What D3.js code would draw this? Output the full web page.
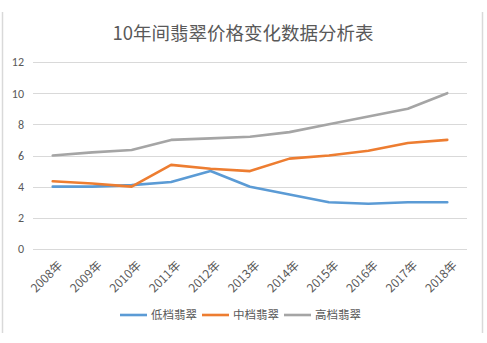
<!DOCTYPE html>
<html>
<head>
<meta charset="utf-8">
<script src="https://cdn.jsdelivr.net/npm/d3@7"></script>
<style>
  body { margin: 0; background: #fff; }
  text { font-family: "Microsoft YaHei", "Noto Sans CJK SC", sans-serif; }
</style>
</head>
<body>
<div id="the_chart"></div>
<script>
var years = ["2008年","2009年","2010年","2011年","2012年","2013年","2014年","2015年","2016年","2017年","2018年"];
var low  = [4.0, 4.0, 4.1, 4.3, 5.0, 4.0, 3.5, 3.0, 2.9, 3.0, 3.0];
var mid  = [4.35, 4.2, 4.0, 5.4, 5.15, 5.0, 5.8, 6.0, 6.3, 6.8, 7.0];
var high = [6.0, 6.2, 6.35, 7.0, 7.1, 7.2, 7.5, 8.0, 8.5, 9.0, 10.0];
var seriesNames = ["低档翡翠", "中档翡翠", "高档翡翠"];
var yTicks = [0, 2, 4, 6, 8, 10, 12];
var title = "10年间翡翠价格变化数据分析表";

var series = [
  {name: seriesNames[0], values: low,  color: "#5b9bd5"},
  {name: seriesNames[1], values: mid,  color: "#ed7d31"},
  {name: seriesNames[2], values: high, color: "#a5a5a5"}
];

var w = 487, h = 343;
var svg = d3.select("#the_chart").append("svg")
  .attr("width", w).attr("height", h);

// frame edges
svg.append("line").attr("x1", 2.5).attr("x2", 2.5).attr("y1", 12).attr("y2", 333)
  .style("stroke", "#d9d9d9").style("stroke-width", "1.5px");
svg.append("line").attr("x1", 482.5).attr("x2", 482.5).attr("y1", 12).attr("y2", 333)
  .style("stroke", "#d9d9d9").style("stroke-width", "1.5px");

svg.append("text")
  .attr("x", 243).attr("y", 40)
  .attr("text-anchor", "middle")
  .style("font-size", "18.5px")
  .style("fill", "#595959")
  .text(title);

var pL = 33, pR = 467, pT = 62, pB = 249;

var xscale = d3.scalePoint()
  .domain(years)
  .range([pL, pR])
  .padding(0.5);

var yscale = d3.scaleLinear()
  .domain([0, 12])
  .range([pB, pT]);

// grid
svg.append("g").selectAll("line")
  .data(yTicks)
  .enter().append("line")
  .attr("x1", pL).attr("x2", pR)
  .attr("y1", function(d){ return Math.round(yscale(d)) + 0.5; })
  .attr("y2", function(d){ return Math.round(yscale(d)) + 0.5; })
  .style("stroke", "#d9d9d9")
  .style("stroke-width", "1px");

var yAxis = d3.axisLeft(yscale).tickValues(yTicks).tickSize(0).tickPadding(9);
var gY = svg.append("g")
  .attr("transform", "translate(" + pL + ",0)")
  .call(yAxis);
gY.select(".domain").remove();
gY.selectAll("text").style("font-size", "12px").style("fill", "#595959")
  .style("font-family", "Calibri, 'Liberation Sans', sans-serif");

var xAxis = d3.axisBottom(xscale).tickSize(0).tickPadding(0);
var gX = svg.append("g")
  .attr("transform", "translate(0," + pB + ")")
  .call(xAxis);
gX.select(".domain").remove();
gX.selectAll("text")
  .style("font-size", "12px")
  .style("fill", "#595959")
  .attr("text-anchor", "end")
  .attr("y", 0)
  .attr("dy", "0.35em")
  .attr("transform", "translate(7,14) rotate(-45)");

var line = d3.line()
  .x(function(d, i){ return xscale(years[i]); })
  .y(function(d){ return yscale(d); });

svg.append("g").selectAll("path")
  .data(series)
  .enter().append("path")
  .attr("d", function(d){ return line(d.values); })
  .style("fill", "none")
  .style("stroke", function(d){ return d.color; })
  .style("stroke-width", "2.6px")
  .style("stroke-linejoin", "round")
  .style("stroke-linecap", "round");

// legend
var legend = svg.append("g").attr("transform", "translate(120,315)");
var lx = [0, 82, 164];
var items = legend.selectAll("g")
  .data(series)
  .enter().append("g")
  .attr("transform", function(d, i){ return "translate(" + lx[i] + ",0)"; });
items.append("line")
  .attr("x1", 0).attr("x2", 27).attr("y1", 0).attr("y2", 0)
  .style("stroke", function(d){ return d.color; })
  .style("stroke-width", "2.6px");
items.append("text")
  .attr("x", 31).attr("y", 0).attr("dy", "0.35em")
  .style("font-size", "11.5px")
  .style("fill", "#595959")
  .text(function(d){ return d.name; });
</script>
</body>
</html>
